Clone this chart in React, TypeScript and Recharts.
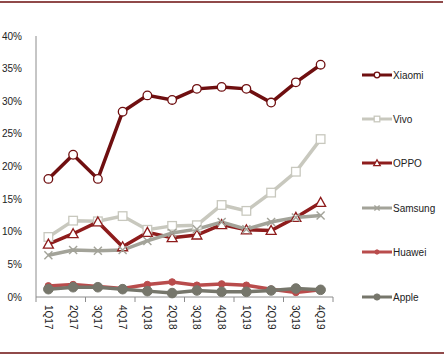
import React from "react";
import { LineChart, Line, XAxis, YAxis } from "recharts";

const quarters = ["1Q17", "2Q17", "3Q17", "4Q17", "1Q18", "2Q18", "3Q18", "4Q18", "1Q19", "2Q19", "3Q19", "4Q19"];
const xiaomi = [18.1, 21.8, 18.1, 28.4, 30.9, 30.2, 31.9, 32.2, 31.9, 29.8, 32.9, 35.6];
const vivo = [9.2, 11.7, 11.6, 12.4, 10.3, 10.9, 11.0, 14.1, 13.2, 16.0, 19.2, 24.2];
const oppo = [8.1, 9.7, 11.5, 7.7, 9.9, 9.1, 9.5, 11.1, 10.3, 10.2, 12.2, 14.5];
const samsung = [6.4, 7.2, 7.1, 7.2, 8.6, 9.8, 10.4, 11.5, 10.4, 11.5, 12.2, 12.5];
const huawei = [1.7, 1.9, 1.6, 1.3, 1.9, 2.3, 1.8, 2.0, 1.8, 1.2, 0.7, 1.1];
const apple = [1.2, 1.5, 1.5, 1.2, 0.9, 0.6, 1.0, 0.8, 0.8, 1.0, 1.3, 1.1];
const yTicks = [0, 5, 10, 15, 20, 25, 30, 35, 40];

const data = quarters.map((q, i) => ({
  q,
  Xiaomi: xiaomi[i],
  Vivo: vivo[i],
  OPPO: oppo[i],
  Samsung: samsung[i],
  Huawei: huawei[i],
  Apple: apple[i],
}));

const FONT = "'Liberation Sans', Arial, sans-serif";

const C = {
  Xiaomi: "#6f0f10",
  Vivo: "#c8c8be",
  OPPO: "#8e1c1c",
  Samsung: "#a3a399",
  Huawei: "#b94c4c",
  Apple: "#76766b",
};

type MK = "circle" | "square" | "triangle" | "x" | "diamond" | "dot";

const Marker = ({ cx, cy, kind, color, s = 1 }: { cx: number; cy: number; kind: MK; color: string; s?: number }) => {
  if (cx == null || cy == null) return null;
  switch (kind) {
    case "circle":
      return <circle cx={cx} cy={cy} r={4.3 * s} fill="#fff" stroke={color} strokeWidth={1.3} />;
    case "square":
      return (
        <rect x={cx - 4.3 * s} y={cy - 4.3 * s} width={8.6 * s} height={8.6 * s} fill="#fff" stroke={color} strokeWidth={1.3} />
      );
    case "triangle":
      return (
        <polygon
          points={`${cx},${cy - 5 * s} ${cx + 5 * s},${cy + 4 * s} ${cx - 5 * s},${cy + 4 * s}`}
          fill="#fff"
          stroke={color}
          strokeWidth={1.3}
        />
      );
    case "x":
      return (
        <g stroke={color} strokeWidth={1.4}>
          <line x1={cx - 4 * s} y1={cy - 4 * s} x2={cx + 4 * s} y2={cy + 4 * s} />
          <line x1={cx - 4 * s} y1={cy + 4 * s} x2={cx + 4 * s} y2={cy - 4 * s} />
        </g>
      );
    case "diamond":
      return <circle cx={cx} cy={cy} r={3.3 * s} fill={color} stroke={color} />;
    case "dot":
      return <circle cx={cx} cy={cy} r={4.8 * s} fill={color} stroke={color} />;
  }
  return null;
};

const series: { key: keyof typeof C; kind: MK }[] = [
  { key: "Xiaomi", kind: "circle" },
  { key: "Vivo", kind: "square" },
  { key: "OPPO", kind: "triangle" },
  { key: "Samsung", kind: "x" },
  { key: "Huawei", kind: "diamond" },
  { key: "Apple", kind: "dot" },
];

const legendY = [75, 119, 163, 208, 252, 297];

const XTick = (props: any) => {
  const { x, payload, index } = props;
  const half = 12.375;
  const axisY = 297;
  return (
    <g>
      {index % 2 === 0 && <line x1={x - half} y1={axisY} x2={x - half} y2={axisY + 5} stroke="#8c8c8c" />}
      {index === quarters.length - 1 && (
        <line x1={x + half} y1={axisY} x2={x + half} y2={axisY + 5} stroke="#8c8c8c" />
      )}
      <text
        transform={`translate(${x},${axisY + 8}) rotate(90)`}
        textAnchor="start"
        dominantBaseline="central"
        fontSize={10}
        fontFamily={FONT}
        fill="#222"
      >
        {payload.value}
      </text>
    </g>
  );
};

export default function App() {
  return (
    <div style={{ position: "fixed", left: 0, top: 0, width: 444, height: 356, background: "#fff" }}>
      <LineChart width={444} height={356} data={data} margin={{ top: 36, right: 111, bottom: 19, left: 0 }}>
        <XAxis
          dataKey="q"
          padding={{ left: 12.375, right: 12.375 }}
          tickLine={false}
          axisLine={{ stroke: "#8c8c8c" }}
          tick={<XTick />}
          height={40}
          interval={0}
        />
        <YAxis
          domain={[0, 40]}
          ticks={yTicks}
          width={36}
          tickLine={false}
          axisLine={{ stroke: "#8c8c8c" }}
          tickFormatter={(v: number) => `${v}%`}
          tick={{ fontSize: 10, fontFamily: FONT, fill: "#222" }}
          tickMargin={8}
        />
        {series.map((s) => (
          <Line
            key={s.key}
            dataKey={s.key}
            stroke={C[s.key]}
            strokeWidth={3.5}
            isAnimationActive={false}
            dot={(p: any) => <Marker key={`${s.key}-${p.index}`} cx={p.cx} cy={p.cy} kind={s.kind} color={C[s.key]} />}
            activeDot={false}
          />
        ))}
      </LineChart>
      <svg width={444} height={356} style={{ position: "absolute", left: 0, top: 0, pointerEvents: "none" }}>
        <line x1={0} y1={2} x2={443} y2={2} stroke="#6b0e0e" strokeWidth={1.5} />
        <line x1={0} y1={353} x2={444} y2={353} stroke="#6b0e0e" strokeWidth={1.5} />
        {series.map((s, i) => (
          <g key={s.key}>
            <line x1={362} y1={legendY[i]} x2={392} y2={legendY[i]} stroke={C[s.key]} strokeWidth={3} />
            <Marker cx={377} cy={legendY[i]} kind={s.kind} color={C[s.key]} s={0.65} />
            <text x={393} y={legendY[i]} dominantBaseline="central" fontSize={10} fontFamily={FONT} fill="#222">
              {s.key}
            </text>
          </g>
        ))}
      </svg>
    </div>
  );
}
